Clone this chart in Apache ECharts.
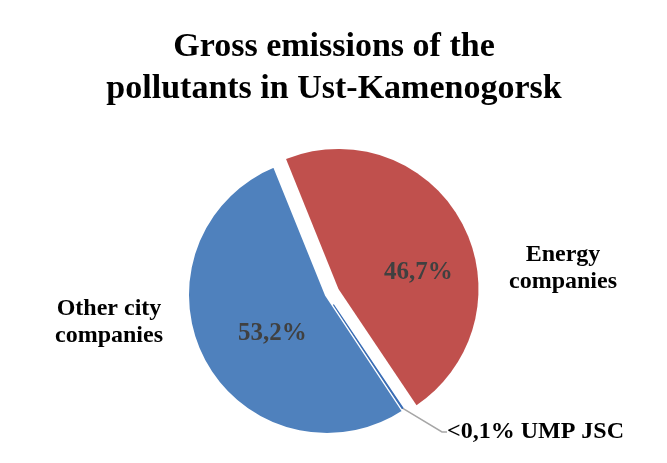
<!DOCTYPE html>
<html>
<head>
<meta charset="utf-8">
<script src="https://cdn.jsdelivr.net/npm/echarts@6/dist/echarts.min.js"></script>
<style>html,body{margin:0;padding:0;background:#fff;}#c{width:667px;height:463px;}</style>
</head>
<body>
<div id="c"></div>
<script>
var titleText = "Gross emissions of the\npollutants in Ust-Kamenogorsk";
var categories = ["Energy companies", "UMP JSC", "Other city companies"];
var categoryLabels = ["Energy\ncompanies", "UMP JSC", "Other city\ncompanies"];
var values = [46.7, 0.1, 53.2];
var percentLabels = ["46,7%", "<0,1%", "53,2%"];

var colors = ["#C0504D", "#3A6DB5", "#4F81BD"];
var serif = "'Liberation Serif','Times New Roman',serif";
var center = [327, 295];

// label placement (styling)
var pctOffset = {0: [27, 12], 2: [10, 5]};
var namePos = {0: [563, 268], 1: [447, 432], 2: [109, 322]};

var chart = echarts.init(document.getElementById('c'), null, {renderer: 'canvas'});

function makeData(styleFn, extraFn) {
  return categories.map(function (c, i) {
    var d = {name: c, value: values[i], itemStyle: styleFn(i)};
    if (extraFn) { var e = extraFn(i); for (var k in e) d[k] = e[k]; }
    return d;
  });
}
var clear = {color: 'rgba(0,0,0,0)'};

var sliceData = makeData(function (i) {
  if (i === 1) return clear;
  if (i === 2) return {color: colors[i], borderColor: '#fff', borderWidth: 4};
  return {color: colors[i]};
}, function (i) { return {selected: i === 0}; });

var lineData = makeData(function (i) {
  return i === 1 ? {color: colors[i], borderColor: colors[i], borderWidth: 1.2} : clear;
}, function (i) {
  return {labelLine: {show: i === 1}, label: {align: i === 1 ? 'left' : 'center'}};
});

var pctData = makeData(function () { return clear; }, function (i) {
  return {label: i === 1 ? {show: false} : {show: true, offset: pctOffset[i]}};
});

chart.setOption({
  animation: false,
  title: {
    text: titleText,
    left: 329,
    textAlign: 'center',
    top: 21,
    textStyle: {fontFamily: serif, fontWeight: 'bold', fontSize: 34, lineHeight: 42, color: '#000'}
  },
  series: [
    {
      type: 'pie',
      z: 2,
      center: center,
      radius: 140,
      startAngle: 112,
      clockwise: true,
      selectedMode: 'multiple',
      selectedOffset: 13,
      silent: true,
      data: sliceData,
      label: {show: false},
      labelLine: {show: false}
    },
    {
      type: 'pie',
      z: 4,
      center: center,
      radius: [12, 136],
      startAngle: 112,
      clockwise: true,
      silent: true,
      data: lineData,
      label: {
        position: 'outside',
        formatter: function (p) {
          return p.dataIndex === 1 ? percentLabels[1] + ' ' + categoryLabels[1] : categoryLabels[p.dataIndex];
        },
        fontFamily: serif, fontWeight: 'bold', fontSize: 24, lineHeight: 27, color: '#000'
      },
      labelLine: {show: true, length: 10, length2: 5, lineStyle: {color: '#A6A6A6', width: 1.5}},
      labelLayout: function (p) {
        var pos = namePos[p.dataIndex];
        return {x: pos[0], y: pos[1], align: p.dataIndex === 1 ? 'left' : 'center', verticalAlign: 'middle'};
      }
    },
    {
      type: 'pie',
      z: 5,
      center: center,
      radius: 140,
      startAngle: 112,
      clockwise: true,
      silent: true,
      data: pctData,
      label: {
        position: 'inside',
        formatter: function (p) { return percentLabels[p.dataIndex]; },
        fontFamily: serif, fontWeight: 'bold', fontSize: 25, color: '#404040'
      },
      labelLine: {show: false}
    }
  ]
});
</script>
</body>
</html>
